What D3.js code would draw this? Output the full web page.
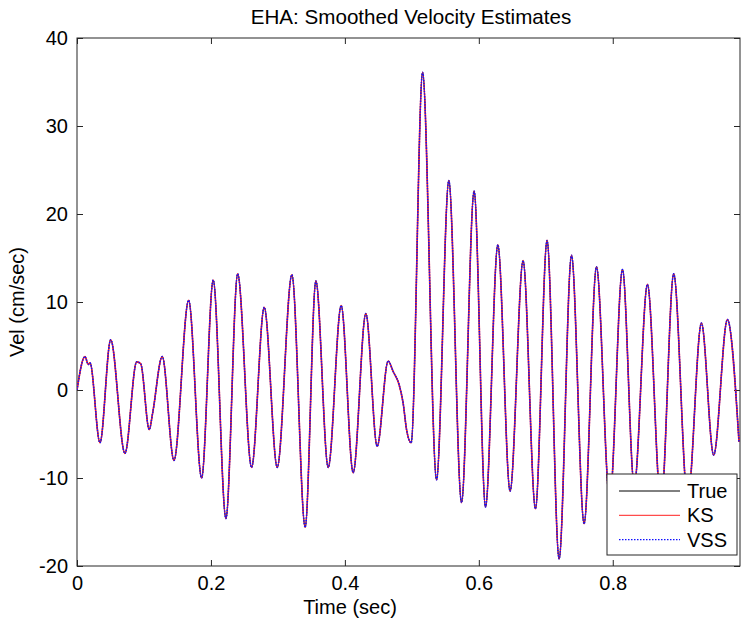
<!DOCTYPE html>
<html>
<head>
<meta charset="utf-8">
<script src="https://cdn.jsdelivr.net/npm/d3@7"></script>
<style>
  html, body { margin: 0; padding: 0; background: #fff; }
  svg { display: block; }
  text { font-family: "Liberation Sans", Arial, Helvetica, sans-serif; fill: #000; }
</style>
</head>
<body>
<script>
// ---- data (times of extrema / turning points, sec) ----
const timeSec = [0.000, 0.0119, 0.0169, 0.0194, 0.0343, 0.0503, 0.0716, 0.0891, 0.0951, 0.1079,
  0.1130, 0.1273, 0.1448, 0.1667, 0.1861, 0.2034, 0.2224, 0.2399, 0.2607, 0.2796,
  0.2990, 0.3209, 0.3407, 0.3567, 0.3751, 0.3945, 0.4124, 0.4313, 0.4482, 0.4646,
  0.4721, 0.4810, 0.4870, 0.4921, 0.4990, 0.5160, 0.5369, 0.5552, 0.5742, 0.5930,
  0.6100, 0.6284, 0.6467, 0.6661, 0.6846, 0.7019, 0.7199, 0.7384, 0.7572, 0.7757,
  0.7955, 0.8145, 0.8321, 0.8518, 0.8721, 0.8910, 0.9119, 0.9324, 0.9507, 0.9712, 0.9885];
const trueVel = [0.0, 3.8, 2.9, 3.1, -6.0, 5.7, -7.2, 3.2, 3.0, -4.5,
  -2.6, 3.8, -8.0, 10.2, -10.0, 12.5, -14.6, 13.2, -8.8, 9.4,
  -8.8, 13.1, -15.6, 12.4, -8.8, 9.6, -9.4, 8.7, -6.4, 3.3,
  2.1, 0.6, -1.5, -4.5, -6.0, 36.1, -10.2, 23.8, -12.8, 22.6,
  -13.3, 16.5, -11.5, 14.7, -13.5, 17.0, -19.2, 15.3, -15.2, 14.0,
  -12.5, 13.7, -10.8, 12.0, -13.0, 13.2, -12.5, 7.6, -7.4, 8.0, -5.9];
// The smoothed estimates are indistinguishable from the true velocity in the picture
const ksVel  = trueVel.slice();
const vssVel = trueVel.slice();

const xTicks = [0, 0.2, 0.4, 0.6, 0.8];
const yTicks = [-20, -10, 0, 10, 20, 30, 40];
const seriesNames = ["True", "KS", "VSS"];

const titleText = "EHA: Smoothed Velocity Estimates";
const xLabel = "Time (sec)";
const yLabel = "Vel (cm/sec)";

// ---- layout ----
const W = 742, H = 624;
const L = 77, R = 740, T = 38, B = 566;
const FS = 20;

const svg = d3.select("body").append("svg").attr("width", W).attr("height", H);

const x = d3.scaleLinear().domain([0, 0.99]).range([L, R]);
const y = d3.scaleLinear().domain([-20, 40]).range([B, T]);

svg.append("clipPath").attr("id", "clip")
  .append("rect").attr("x", L).attr("y", T).attr("width", R - L).attr("height", B - T);

const fmt = d => d === 0 ? "0" : String(d);

// axes (MATLAB style: ticks inside, box)
const axColor = "#262626";
const tickLen = 6;
const gB = svg.append("g").attr("transform", `translate(0,${B})`)
  .call(d3.axisBottom(x).tickValues(xTicks).tickSize(-tickLen).tickPadding(10).tickFormat(fmt));
const gT = svg.append("g").attr("transform", `translate(0,${T})`)
  .call(d3.axisTop(x).tickValues(xTicks).tickSize(-tickLen).tickFormat(""));
const gL = svg.append("g").attr("transform", `translate(${L},0)`)
  .call(d3.axisLeft(y).tickValues(yTicks).tickSize(-tickLen).tickPadding(9).tickFormat(fmt));
const gR = svg.append("g").attr("transform", `translate(${R},0)`)
  .call(d3.axisRight(y).tickValues(yTicks).tickSize(-tickLen).tickFormat(""));
[gB, gT, gL, gR].forEach(g => {
  g.select(".domain").remove();
  g.selectAll(".tick line").attr("stroke", axColor);
  g.selectAll(".tick text").attr("font-size", FS).attr("font-family", "Liberation Sans, Arial, sans-serif").attr("fill", "#000");
});
// box
svg.append("rect").attr("x", L).attr("y", T).attr("width", R - L).attr("height", B - T)
  .attr("fill", "none").attr("stroke", axColor).attr("stroke-width", 1);

// lines
const pts = arr => arr.map((v, i) => [timeSec[i], v]);
const line = d3.line().x(d => x(d[0])).y(d => y(d[1])).curve(d3.curveMonotoneX);
const plot = svg.append("g").attr("clip-path", "url(#clip)");
plot.append("path").datum(pts(trueVel)).attr("d", line)
  .attr("fill", "none").attr("stroke", "#000").attr("stroke-width", 1);
plot.append("path").datum(pts(ksVel)).attr("d", line)
  .attr("fill", "none").attr("stroke", "#ff2020").attr("stroke-width", 1.6);
plot.append("path").datum(pts(vssVel)).attr("d", line)
  .attr("fill", "none").attr("stroke", "#1010ff").attr("stroke-width", 1.5)
  .attr("stroke-dasharray", "1.5,1.2");

// title & labels
svg.append("text").attr("x", 411).attr("y", 24).attr("text-anchor", "middle")
  .attr("font-size", 20.6).text(titleText);
svg.append("text").attr("x", 350).attr("y", 614).attr("text-anchor", "middle")
  .attr("font-size", FS).text(xLabel);
svg.append("text").attr("transform", `translate(24,${(T + B) / 2}) rotate(-90)`)
  .attr("text-anchor", "middle").attr("font-size", FS).text(yLabel);

// legend
const lgX = 607, lgY = 474, lgW = 130, lgH = 81;
const lg = svg.append("g");
lg.append("rect").attr("x", lgX).attr("y", lgY).attr("width", lgW).attr("height", lgH)
  .attr("fill", "#fff").attr("stroke", axColor).attr("stroke-width", 1);
const lgStyles = [
  {stroke: "#000", dash: null, w: 1},
  {stroke: "#ff2020", dash: null, w: 1},
  {stroke: "#1010ff", dash: "1.5,1.5", w: 1.2}
];
seriesNames.forEach((name, i) => {
  const yy = lgY + 17 + i * 24.3;
  lg.append("line").attr("x1", lgX + 12).attr("x2", lgX + 73).attr("y1", yy).attr("y2", yy)
    .attr("stroke", lgStyles[i].stroke).attr("stroke-width", lgStyles[i].w)
    .attr("stroke-dasharray", lgStyles[i].dash);
  lg.append("text").attr("x", lgX + 80).attr("y", yy).attr("dy", "0.35em")
    .attr("font-size", FS).text(name);
});
</script>
</body>
</html>
